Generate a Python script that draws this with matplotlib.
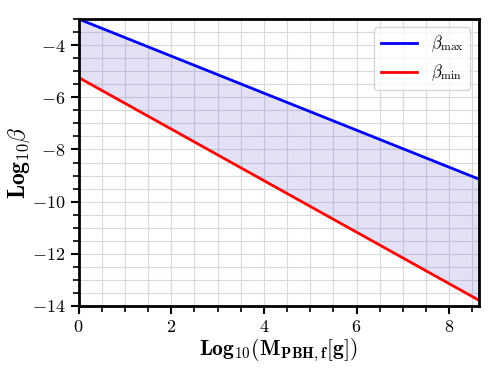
import numpy as np
import matplotlib
matplotlib.use("Agg")
import matplotlib.pyplot as plt
from matplotlib.ticker import MultipleLocator

plt.rcParams['font.family'] = 'serif'
plt.rcParams['font.serif'] = ['cmr10', 'DejaVu Serif']
plt.rcParams['mathtext.fontset'] = 'cm'
plt.rcParams['axes.formatter.use_mathtext'] = True

# data
logM = [0.0, 8.63]
log_beta_max = [-3.0, -9.13]
log_beta_min = [-5.24, -13.77]

fig = plt.figure(figsize=(4.98, 3.74), dpi=100)
ax = fig.add_axes([78.5/498, (374-306)/374, 400/498, 287/374])

ax.fill_between(logM, log_beta_min, log_beta_max, color='slateblue', alpha=0.18, lw=0)
ax.plot(logM, log_beta_max, color='blue', lw=2, label=r'$\beta_{\rm max}$')
ax.plot(logM, log_beta_min, color='red', lw=2, label=r'$\beta_{\rm min}$')

ax.set_xlim(0, 8.63)
ax.set_ylim(-14, -3)
ax.xaxis.set_major_locator(MultipleLocator(2))
ax.xaxis.set_minor_locator(MultipleLocator(0.5))
ax.yaxis.set_major_locator(MultipleLocator(2))
ax.yaxis.set_minor_locator(MultipleLocator(0.5))
ax.grid(True, which='both', color='0.85', lw=0.8)
ax.set_axisbelow(True)
ax.tick_params(which='major', length=6, width=1.5, labelsize=13, direction='out')
ax.tick_params(which='minor', length=4, width=1.2, direction='out')
for s in ax.spines.values():
    s.set_linewidth(2)

ax.set_xlabel(r'$\mathbf{Log_{10}(M_{PBH,f}[g])}$', fontsize=15.5, labelpad=1)
ax.set_ylabel(r'$\mathbf{Log_{10}}\beta$', fontsize=17, labelpad=0)
leg = ax.legend(loc='upper right', fontsize=12, handlelength=2.2, framealpha=0.8)

fig.savefig('out.png', dpi=100)
